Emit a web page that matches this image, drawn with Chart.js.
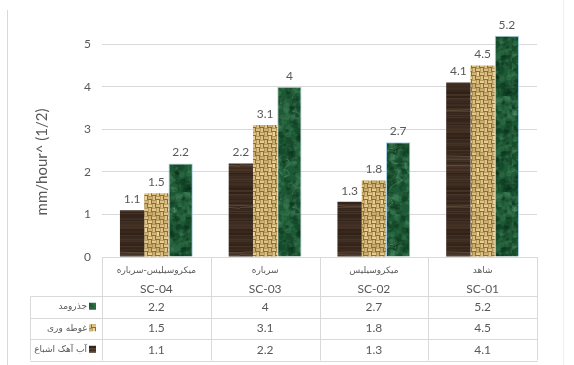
<!DOCTYPE html>
<html>
<head>
<meta charset="utf-8">
<script src="https://cdn.jsdelivr.net/npm/chart.js@4.4.0/dist/chart.umd.min.js"></script>
<style>
  html, body { margin: 0; padding: 0; background: #fff; }
  #wrap { position: relative; width: 574px; height: 365px; }
</style>
</head>
<body>
<div id="wrap"><canvas id="grafico"></canvas></div>
<script>
// Dados do gráfico
const codigos = ['SC-04', 'SC-03', 'SC-02', 'SC-01'];
const nomes = ['میکروسیلیس-سرباره', 'سرباره', 'میکروسیلیس', 'شاهد'];
const seriesNomes = ['آب آهک اشباع', 'غوطه وری', 'جذرومد'];
const aguaCal = [1.1, 2.2, 1.3, 4.1];
const imersao = [1.5, 3.1, 1.8, 4.5];
const mare = [2.2, 4, 2.7, 5.2];
const ticksY = [0, 1, 2, 3, 4, 5];
const tituloY = 'mm/hour^ (1/2)';

const FONTE = "Lato, 'DejaVu Sans', sans-serif";
const FONTE_FA = "'DejaVu Sans', sans-serif";
const CINZA = '#595959';
const LINHA = '#d9d9d9';

// Gerador pseudo-aleatório com semente (só para as texturas)
function rng(seed) {
    return function () {
        seed = (seed + 0x6D2B79F5) | 0;
        let t = Math.imul(seed ^ (seed >>> 15), 1 | seed);
        t = (t + Math.imul(t ^ (t >>> 7), 61 | t)) ^ t;
        return ((t ^ (t >>> 14)) >>> 0) / 4294967296;
    };
}

// Textura de madeira escura
function texturaMadeira() {
    const w = 48, h = 96;
    const c = document.createElement('canvas'); c.width = w; c.height = h;
    const g = c.getContext('2d');
    const r = rng(7);
    g.fillStyle = '#3b2a1f'; g.fillRect(0, 0, w, h);
    for (let y = 0; y < h; y++) {
        const v = r();
        g.fillStyle = v > 0.5 ? `rgba(105,80,60,${(v - 0.5) * 0.6})` : `rgba(18,10,6,${(0.5 - v) * 0.5})`;
        g.fillRect(0, y, w, 1);
    }
    for (let i = 0; i < 5; i++) {
        const y0 = r() * h;
        g.strokeStyle = 'rgba(150,125,100,0.45)';
        g.lineWidth = 0.8;
        g.beginPath();
        g.moveTo(0, y0);
        g.bezierCurveTo(16, y0 + (r() - 0.5) * 4, 32, y0 + (r() - 0.5) * 4, w, y0 + (r() - 0.5) * 3);
        g.stroke();
    }
    return g.createPattern(c, 'repeat');
}

// Textura de trama (juta)
function texturaTrama() {
    const s = 4, n = 8;
    const c = document.createElement('canvas'); c.width = c.height = s * n;
    const g = c.getContext('2d');
    const r = rng(11);
    g.fillStyle = '#8e6c38'; g.fillRect(0, 0, s * n, s * n);
    for (let i = 0; i < n; i++) {
        for (let j = 0; j < n; j++) {
            const x = i * s, y = j * s;
            const k = 200 + Math.floor(r() * 40);
            g.fillStyle = `rgb(${k},${k - 28},${k - 90})`;
            if ((i + j) % 2 === 0) g.fillRect(x, y + 0.5, s, s - 1.5);
            else g.fillRect(x + 0.5, y, s - 1.5, s);
        }
    }
    return g.createPattern(c, 'repeat');
}

// Textura de mármore verde
function texturaMarmore() {
    const w = 64, h = 96;
    const c = document.createElement('canvas'); c.width = w; c.height = h;
    const g = c.getContext('2d');
    const r = rng(23);
    g.fillStyle = '#1d5935'; g.fillRect(0, 0, w, h);
    for (let i = 0; i < 500; i++) {
        const claro = r() > 0.5;
        g.fillStyle = claro ? 'rgba(80,150,105,0.22)' : 'rgba(8,40,20,0.28)';
        g.beginPath();
        g.arc(r() * w, r() * h, 0.8 + r() * 3, 0, Math.PI * 2);
        g.fill();
    }
    for (let i = 0; i < 7; i++) {
        let x = r() * w, y = r() * h;
        g.strokeStyle = 'rgba(150,205,170,0.35)';
        g.lineWidth = 0.7;
        g.beginPath(); g.moveTo(x, y);
        for (let k = 0; k < 6; k++) {
            x += (r() - 0.5) * 14; y += (r() - 0.3) * 10;
            g.lineTo(x, y);
        }
        g.stroke();
    }
    return g.createPattern(c, 'repeat');
}

const padroes = [texturaMadeira(), texturaTrama(), texturaMarmore()];

// Rótulos de valor, tabela de dados, título do eixo e moldura
const extras = {
    id: 'extras',
    afterDatasetsDraw(chart) {
        const { ctx, chartArea, scales } = chart;
        const area = chartArea;

        // Valores acima das barras
        ctx.save();
        ctx.fillStyle = CINZA;
        ctx.font = `12px ${FONTE}`;
        ctx.textAlign = 'center';
        ctx.textBaseline = 'bottom';
        chart.data.datasets.forEach((ds, i) => {
            chart.getDatasetMeta(i).data.forEach((bar, j) => {
                ctx.fillText(String(ds.data[j]), bar.x, bar.y - 5);
            });
        });
        ctx.restore();

        // Tabela de dados abaixo do gráfico
        const topo = area.bottom;
        const cab = topo + 39;
        const altLinha = 21.5;
        const colLegenda = 30;
        const largCat = (area.right - area.left) / codigos.length;
        const fim = cab + altLinha * seriesNomes.length;
        const px = v => Math.round(v) + 0.5;

        ctx.save();
        ctx.strokeStyle = LINHA;
        ctx.lineWidth = 1;
        ctx.beginPath();
        for (let i = 0; i <= codigos.length; i++) {
            const x = px(area.left + i * largCat);
            ctx.moveTo(x, topo); ctx.lineTo(x, fim);
        }
        ctx.moveTo(px(colLegenda), px(cab)); ctx.lineTo(px(colLegenda), fim);
        for (let k = 0; k <= seriesNomes.length; k++) {
            const y = px(cab + k * altLinha);
            ctx.moveTo(px(colLegenda), y); ctx.lineTo(px(area.right), y);
        }
        ctx.stroke();

        ctx.fillStyle = CINZA;
        ctx.textAlign = 'center';
        ctx.textBaseline = 'middle';
        codigos.forEach((cod, i) => {
            const x = scales.x.getPixelForValue(i);
            ctx.font = `9px ${FONTE_FA}`;
            ctx.fillText(nomes[i], x, topo + 14);
            ctx.font = `12px ${FONTE}`;
            ctx.fillText(cod, x, topo + 32);
        });

        // Linhas da tabela em ordem inversa das séries
        const ordem = [2, 1, 0];
        ordem.forEach((s, k) => {
            const yc = cab + k * altLinha + altLinha / 2;
            ctx.fillStyle = CINZA;
            ctx.font = `12px ${FONTE}`;
            ctx.textAlign = 'center';
            chart.data.datasets[s].data.forEach((v, i) => {
                ctx.fillText(String(v), scales.x.getPixelForValue(i), yc);
            });
            ctx.font = `9px ${FONTE_FA}`;
            ctx.textAlign = 'right';
            ctx.fillText(seriesNomes[s], area.left - 15, yc);
            ctx.fillStyle = padroes[s];
            ctx.fillRect(area.left - 13, yc - 4, 7, 7);
        });
        ctx.restore();

        // Título do eixo Y
        ctx.save();
        ctx.translate(42, 162);
        ctx.rotate(-Math.PI / 2);
        ctx.fillStyle = CINZA;
        ctx.font = `15px ${FONTE}`;
        ctx.textAlign = 'center';
        ctx.textBaseline = 'middle';
        ctx.fillText(tituloY, 0, 0);
        ctx.restore();

        // Moldura lateral
        ctx.save();
        ctx.strokeStyle = LINHA;
        ctx.beginPath();
        ctx.moveTo(7.5, 10); ctx.lineTo(7.5, chart.height);
        ctx.stroke();
        ctx.strokeStyle = '#efefef';
        ctx.beginPath();
        ctx.moveTo(563.5, 0); ctx.lineTo(563.5, chart.height);
        ctx.stroke();
        ctx.restore();
    }
};

const ctx = document.getElementById('grafico').getContext('2d');
const grafico = new Chart(ctx, {
    type: 'bar',
    data: {
        labels: codigos,
        datasets: [
            { label: seriesNomes[0], data: aguaCal, backgroundColor: padroes[0], borderWidth: 0 },
            { label: seriesNomes[1], data: imersao, backgroundColor: padroes[1], borderWidth: 0 },
            { label: seriesNomes[2], data: mare, backgroundColor: padroes[2], borderColor: '#a9d0e3', borderWidth: 1 }
        ]
    },
    options: {
        responsive: true,
        maintainAspectRatio: false,
        animation: false,
        layout: { padding: { left: 0, right: 37, top: 23, bottom: 108 } },
        datasets: { bar: { categoryPercentage: 0.67, barPercentage: 1 } },
        plugins: { legend: { display: false }, tooltip: { enabled: false } },
        scales: {
            x: { display: false },
            y: {
                min: 0,
                max: 5.5,
                afterBuildTicks: (s) => { s.ticks = ticksY.map(v => ({ value: v })); },
                afterFit: (s) => { s.width = 102; },
                border: { display: false },
                grid: { color: LINHA, drawTicks: false },
                ticks: { color: CINZA, font: { size: 12, family: FONTE }, padding: 11 }
            }
        }
    },
    plugins: [extras]
});
</script>
</body>
</html>
